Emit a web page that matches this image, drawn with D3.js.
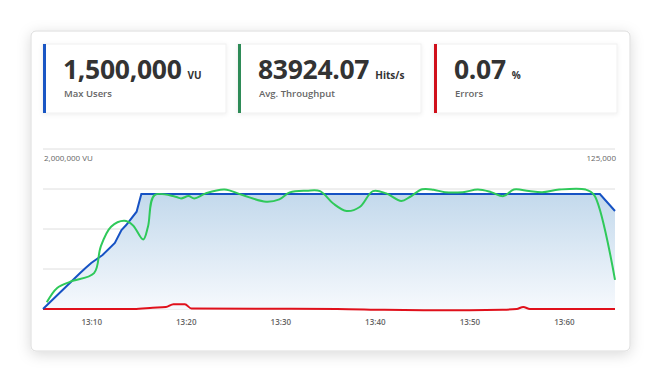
<!DOCTYPE html>
<html><head><meta charset="utf-8">
<script src="https://cdn.jsdelivr.net/npm/d3@7"></script>
<style>
html,body{margin:0;padding:0;background:#fff;}
svg{display:block;font-family:"Open Sans",sans-serif;}
</style></head>
<body><svg id="c" width="661" height="382"></svg>
<script>
// ---- data ----
const statValues = ["1,500,000", "83924.07", "0.07"];
const statUnits = ["VU", "Hits/s", "%"];
const statLabels = ["Max Users", "Avg. Throughput", "Errors"];
const statColors = ["#1a56c4", "#2e8b57", "#d0101b"];

const xTicks = [10, 20, 30, 40, 50, 60];
const leftMaxLabel = "2,000,000 VU";
const rightMaxLabel = "125,000";

// minutes past 13:00
const usersTime = [4.9, 8.8, 9.4, 10.0, 11.2, 12.5, 13.2, 13.7, 14.8, 15.3, 63.8, 65.4];
const usersVals = [0, 446000, 512000, 575000, 675000, 825000, 987000, 1050000, 1216000, 1437000, 1437000, 1225000];

const tpTime = [5.3, 6.4, 7.8, 10.3, 11.0, 12.1, 13.5, 14.4, 15.5, 16.0, 16.7, 18.9, 19.5, 20.3, 20.9, 22.1, 24.1, 26.0, 28.5, 29.9, 31.0, 32.8, 34.2, 35.6, 37.0, 38.4, 39.8, 41.2, 42.8, 43.7, 45.0, 46.2, 47.4, 49.3, 50.9, 52.3, 53.6, 54.7, 56.3, 57.7, 59.5, 62.3, 63.2, 65.4];
const tpVals = [5200, 16400, 21400, 28000, 48600, 64200, 68900, 65500, 54300, 64200, 89000, 87700, 86400, 88200, 86400, 90300, 93400, 89000, 83800, 85600, 91100, 92400, 92100, 82400, 76600, 79700, 92100, 90300, 84400, 87500, 93500, 93200, 91300, 91300, 93300, 91300, 88200, 93300, 92100, 91300, 93300, 93300, 89000, 22700];

const errTime = [4.9, 14.5, 16.5, 17.9, 18.7, 19.9, 20.6, 36.0, 41.0, 46.0, 50.0, 53.5, 55.0, 55.7, 56.4, 60.0, 65.4];
const errVals = [0.00, 0.00, 0.03, 0.05, 0.12, 0.12, 0.01, 0.00, -0.02, -0.03, -0.03, -0.02, 0.00, 0.05, 0.00, 0.00, 0.00];

// ---- drawing ----
const svg = d3.select("#c");
const defs = svg.append("defs");
const sh = defs.append("filter").attr("id","sh").attr("x","-10%").attr("y","-10%").attr("width","120%").attr("height","130%");
sh.append("feDropShadow").attr("dx",0).attr("dy",3).attr("stdDeviation",7).attr("flood-color","#000").attr("flood-opacity",0.15);
const sh2 = defs.append("filter").attr("id","sh2").attr("x","-10%").attr("y","-20%").attr("width","120%").attr("height","150%");
sh2.append("feDropShadow").attr("dx",0).attr("dy",1).attr("stdDeviation",2).attr("flood-color","#000").attr("flood-opacity",0.07);
const grad = defs.append("linearGradient").attr("id","g").attr("x1",0).attr("y1",0).attr("x2",0).attr("y2",1);
grad.append("stop").attr("offset","0%").attr("stop-color","#c3d9ec");
grad.append("stop").attr("offset","100%").attr("stop-color","#f6f9fd");

svg.append("rect").attr("x",31).attr("y",31).attr("width",599).attr("height",320).attr("rx",5)
  .attr("fill","#fff").attr("stroke","#dcdcdc").attr("filter","url(#sh)");

// stat boxes
const boxX = [43, 238, 434], boxW = 183;
statValues.forEach((v,i)=>{
  const g = svg.append("g").attr("transform",`translate(${boxX[i]},44)`);
  g.append("rect").attr("width",boxW).attr("height",69).attr("fill","#fff").attr("stroke","#f0f0f0").attr("filter","url(#sh2)");
  g.append("rect").attr("width",3).attr("height",69).attr("fill",statColors[i]);
  const t = g.append("text").attr("x",20).attr("y",35).attr("fill","#333");
  t.append("tspan").attr("font-size",26.5).attr("font-weight",700).attr("letter-spacing",-0.3).text(v);
  t.append("tspan").attr("dx",6).attr("font-size",10).attr("font-weight",700).text(statUnits[i]);
  g.append("text").attr("x",21).attr("y",53).attr("fill","#666").attr("font-size",9.5).attr("font-weight",600).text(statLabels[i]);
});

// chart
const x = d3.scaleLinear().domain([4.9, 65.4]).range([43, 615]);
const yU = d3.scaleLinear().domain([0, 2000000]).range([309, 149]);
const yT = d3.scaleLinear().domain([0, 125000]).range([309, 149]);
const yE = d3.scaleLinear().domain([0, 4]).range([309, 149]);

// grid
svg.append("g").selectAll("line").data(yU.ticks(4)).join("line")
  .attr("x1",43).attr("x2",615).attr("y1",d=>yU(d)).attr("y2",d=>yU(d))
  .attr("stroke","#dedede").attr("stroke-width",1);

svg.append("text").attr("x",44).attr("y",161).attr("font-size",8).attr("fill","#666").text(leftMaxLabel);
svg.append("text").attr("x",616).attr("y",161).attr("font-size",8).attr("fill","#666").attr("text-anchor","end").text(rightMaxLabel);

const users = usersTime.map((t,i)=>[t, usersVals[i]]);
const tp = tpTime.map((t,i)=>[t, tpVals[i]]);
const err = errTime.map((t,i)=>[t, errVals[i]]);

svg.append("path").datum(users).attr("fill","url(#g)")
  .attr("d", d3.area().x(d=>x(d[0])).y0(309).y1(d=>yU(d[1])));

// x axis
const xa = svg.append("g").attr("transform","translate(0,309)")
  .call(d3.axisBottom(x).tickValues(xTicks).tickSize(0).tickPadding(10).tickFormat(d=>"13:"+d));
xa.select(".domain").remove();
xa.selectAll("text").attr("font-size",8).attr("fill","#666").attr("font-family","Open Sans, sans-serif").attr("font-weight",600);

svg.append("path").datum(err).attr("fill","none").attr("stroke","#e0101b").attr("stroke-width",2)
  .attr("d", d3.line().x(d=>x(d[0])).y(d=>yE(d[1])).curve(d3.curveMonotoneX));
svg.append("path").datum(users).attr("fill","none").attr("stroke","#1652c4").attr("stroke-width",2)
  .attr("d", d3.line().x(d=>x(d[0])).y(d=>yU(d[1])));
svg.append("path").datum(tp).attr("fill","none").attr("stroke","#2fc95a").attr("stroke-width",2)
  .attr("d", d3.line().x(d=>x(d[0])).y(d=>yT(d[1])).curve(d3.curveCatmullRom.alpha(0.5)));
</script></body></html>
